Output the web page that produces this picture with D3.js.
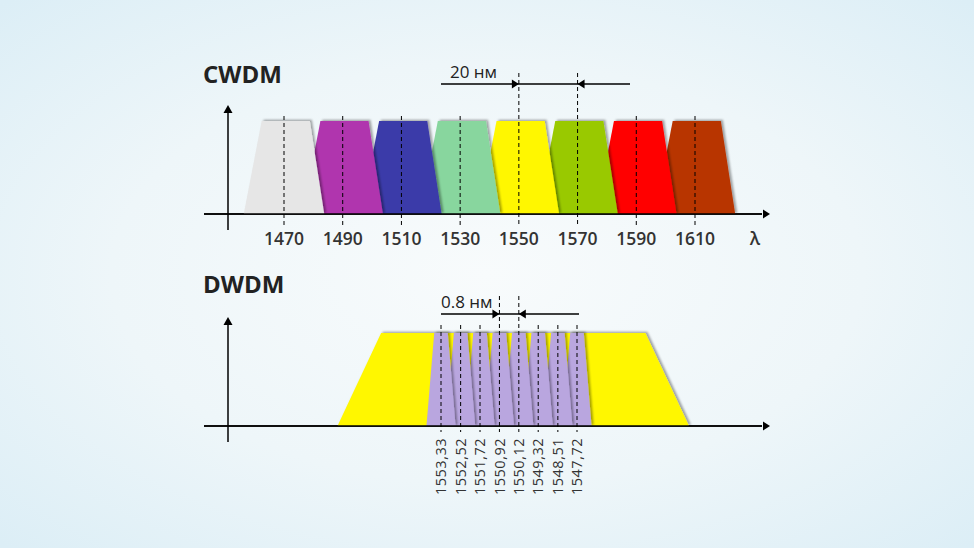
<!DOCTYPE html>
<head>
    <meta charset="utf-8">
    <script src="https://d3js.org/d3.v7.min.js"></script>
</head>
<style>
    body { margin: 0; }
    text { font-family: "Open Sans", "Noto Sans", sans-serif; }
</style>
<body>
    <div id="chart"></div>
</body>

<script>
    // CWDM grid (nm) and channel colours
    const cwdmChannels = [1470, 1490, 1510, 1530, 1550, 1570, 1590, 1610];
    const cwdmColors = ["#e6e6e6", "#b035ae", "#3b3ba9", "#88d69e", "#fff700", "#99c900", "#ff0200", "#b83600"];

    // DWDM grid (nm), left to right as drawn
    const dwdmChannels = [1553.33, 1552.52, 1551.72, 1550.92, 1550.12, 1549.32, 1548.51, 1547.72];
    const dwdmCarrier = 1550.35;   // the CWDM 1550 band under the DWDM channels

    // passband half widths, nm
    const cwdmTop = [7.6, 8.8], cwdmBottom = 13.7;
    const carrierTop = 5.45, carrierBottom = 7.25;
    const dwdmTop = 0.28, dwdmBottom = 0.6;

    const W = 974, H = 548;

    const svg = d3.select("#chart")
        .append("svg")
        .attr("width", W)
        .attr("height", H);

    const defs = svg.append("defs");
    const bg = defs.append("radialGradient").attr("id", "bg")
        .attr("cx", "50%").attr("cy", "50%").attr("r", "70%");
    bg.append("stop").attr("offset", "0%").attr("stop-color", "#f8fbfc");
    bg.append("stop").attr("offset", "55%").attr("stop-color", "#eef6f9");
    bg.append("stop").attr("offset", "100%").attr("stop-color", "#dceef6");

    defs.append("filter").attr("id", "shadow")
        .attr("x", "-20%").attr("y", "-20%").attr("width", "140%").attr("height", "140%")
        .append("feDropShadow")
        .attr("dx", 2).attr("dy", -1.2).attr("stdDeviation", 1.2)
        .attr("flood-color", "#000").attr("flood-opacity", 0.35);

    svg.append("rect").attr("width", W).attr("height", H).attr("fill", "url(#bg)");

    const line = d3.line();

    function arrowHead(g, x, y, dir) {
        // dir: "right", "left", "up"
        let p;
        if (dir === "right") p = [[x, y], [x - 7, y - 4.5], [x - 7, y + 4.5]];
        else if (dir === "left") p = [[x, y], [x + 7, y - 4.5], [x + 7, y + 4.5]];
        else p = [[x, y], [x - 4.5, y + 8], [x + 4.5, y + 8]];
        g.append("path").attr("d", line(p) + "Z").attr("fill", "#000");
    }

    function frame(g, axisY, axisX, top, title, titleY) {
        g.append("line").attr("x1", 204).attr("x2", 762)
            .attr("y1", axisY).attr("y2", axisY)
            .attr("stroke", "#000").attr("stroke-width", 1.5);
        arrowHead(g, 770, axisY, "right");
        g.append("line").attr("x1", axisX).attr("x2", axisX)
            .attr("y1", axisY + 16).attr("y2", top + 6)
            .attr("stroke", "#000").attr("stroke-width", 1.5);
        arrowHead(g, axisX, top, "up");
        g.append("text").attr("x", 203).attr("y", titleY)
            .attr("font-size", 24).attr("font-weight", 700).attr("fill", "#222")
            .text(title);
    }

    function dashed(g, x, y1, y2) {
        g.append("line").attr("x1", x).attr("x2", x).attr("y1", y1).attr("y2", y2)
            .attr("stroke", "#000").attr("stroke-width", 1)
            .attr("stroke-dasharray", "4,3");
    }

    function spacing(g, xa, xb, y, left, right, label, labelX) {
        g.append("line").attr("x1", left).attr("x2", right).attr("y1", y).attr("y2", y)
            .attr("stroke", "#000").attr("stroke-width", 1.3);
        arrowHead(g, xa, y, "right");
        arrowHead(g, xb, y, "left");
        g.append("text").attr("x", labelX).attr("y", y - 6)
            .attr("font-size", 17).attr("fill", "#222").text(label);
    }

    // ---------- CWDM ----------
    const gc = svg.append("g");
    const xC = d3.scaleLinear().domain([1470, 1610]).range([284, 695]);
    const yC = d3.scaleLinear().domain([0, 1]).range([214, 121]);

    frame(gc, yC(0), 228, 105, "CWDM", 83);

    const cwdm = cwdmChannels.map((c, i) => ({c: c, color: cwdmColors[i]})).reverse();
    gc.selectAll("path.band")
        .data(cwdm)
        .join("path")
        .attr("class", "band")
        .attr("d", d => line([
            [xC(d.c - cwdmBottom), yC(0)],
            [xC(d.c - cwdmTop[0]), yC(1)],
            [xC(d.c + cwdmTop[1]), yC(1)],
            [xC(d.c + cwdmBottom), yC(0)]
        ]) + "Z")
        .attr("fill", d => d.color)
        .attr("filter", "url(#shadow)");

    // redraw axis line over band bottoms
    gc.append("line").attr("x1", 204).attr("x2", 762).attr("y1", yC(0)).attr("y2", yC(0))
        .attr("stroke", "#000").attr("stroke-width", 1.5);

    cwdmChannels.forEach(c => {
        const tall = c === 1550 || c === 1570;
        dashed(gc, xC(c), tall ? 73 : 116, 226);
    });

    gc.selectAll("text.tick")
        .data(cwdmChannels)
        .join("text")
        .attr("class", "tick")
        .attr("x", d => xC(d))
        .attr("y", 245)
        .attr("text-anchor", "middle")
        .attr("font-size", 17.5).attr("font-weight", 600).attr("fill", "#333")
        .text(d => d);

    gc.append("text").attr("x", 755).attr("y", 245).attr("text-anchor", "middle")
        .attr("font-size", 18).attr("font-weight", 600).attr("fill", "#333").text("λ");

    spacing(gc, xC(1550), xC(1570), 84, 441, 630, "20 нм", 450);

    // ---------- DWDM ----------
    const gd = svg.append("g");
    const xD = d3.scaleLinear().domain([1553.33, 1547.72]).range([441, 577]);
    const yD = d3.scaleLinear().domain([0, 1]).range([426, 333]);

    frame(gd, yD(0), 228, 317, "DWDM", 293);

    gd.append("path")
        .attr("d", line([
            [xD(dwdmCarrier + carrierBottom), yD(0)],
            [xD(dwdmCarrier + carrierTop), yD(1)],
            [xD(dwdmCarrier - carrierTop), yD(1)],
            [xD(dwdmCarrier - carrierBottom), yD(0)]
        ]) + "Z")
        .attr("fill", "#fff700")
        .attr("filter", "url(#shadow)");

    gd.selectAll("path.chan")
        .data(dwdmChannels.slice().reverse())
        .join("path")
        .attr("class", "chan")
        .attr("d", d => line([
            [xD(d + dwdmBottom), yD(0)],
            [xD(d + dwdmTop), yD(1)],
            [xD(d - dwdmTop), yD(1)],
            [xD(d - dwdmBottom), yD(0)]
        ]) + "Z")
        .attr("fill", "#b9a6df")
        .attr("filter", "url(#shadow)");

    gd.append("line").attr("x1", 204).attr("x2", 762).attr("y1", yD(0)).attr("y2", yD(0))
        .attr("stroke", "#000").attr("stroke-width", 1.5);

    dwdmChannels.forEach(c => {
        const tall = c === 1550.92 || c === 1550.12;
        dashed(gd, xD(c), tall ? 296 : 325, 432);
    });

    gd.selectAll("text.tick")
        .data(dwdmChannels)
        .join("text")
        .attr("class", "tick")
        .attr("transform", d => `translate(${xD(d)},438) rotate(-90)`)
        .attr("dy", "0.36em")
        .attr("text-anchor", "end")
        .attr("font-size", 14.5).attr("letter-spacing", 0.5).attr("fill", "#333")
        .text(d => d.toFixed(2).replace(".", ","));

    spacing(gd, xD(1550.92), xD(1550.12), 314, 441, 579, "0.8 нм", 441);
</script>
